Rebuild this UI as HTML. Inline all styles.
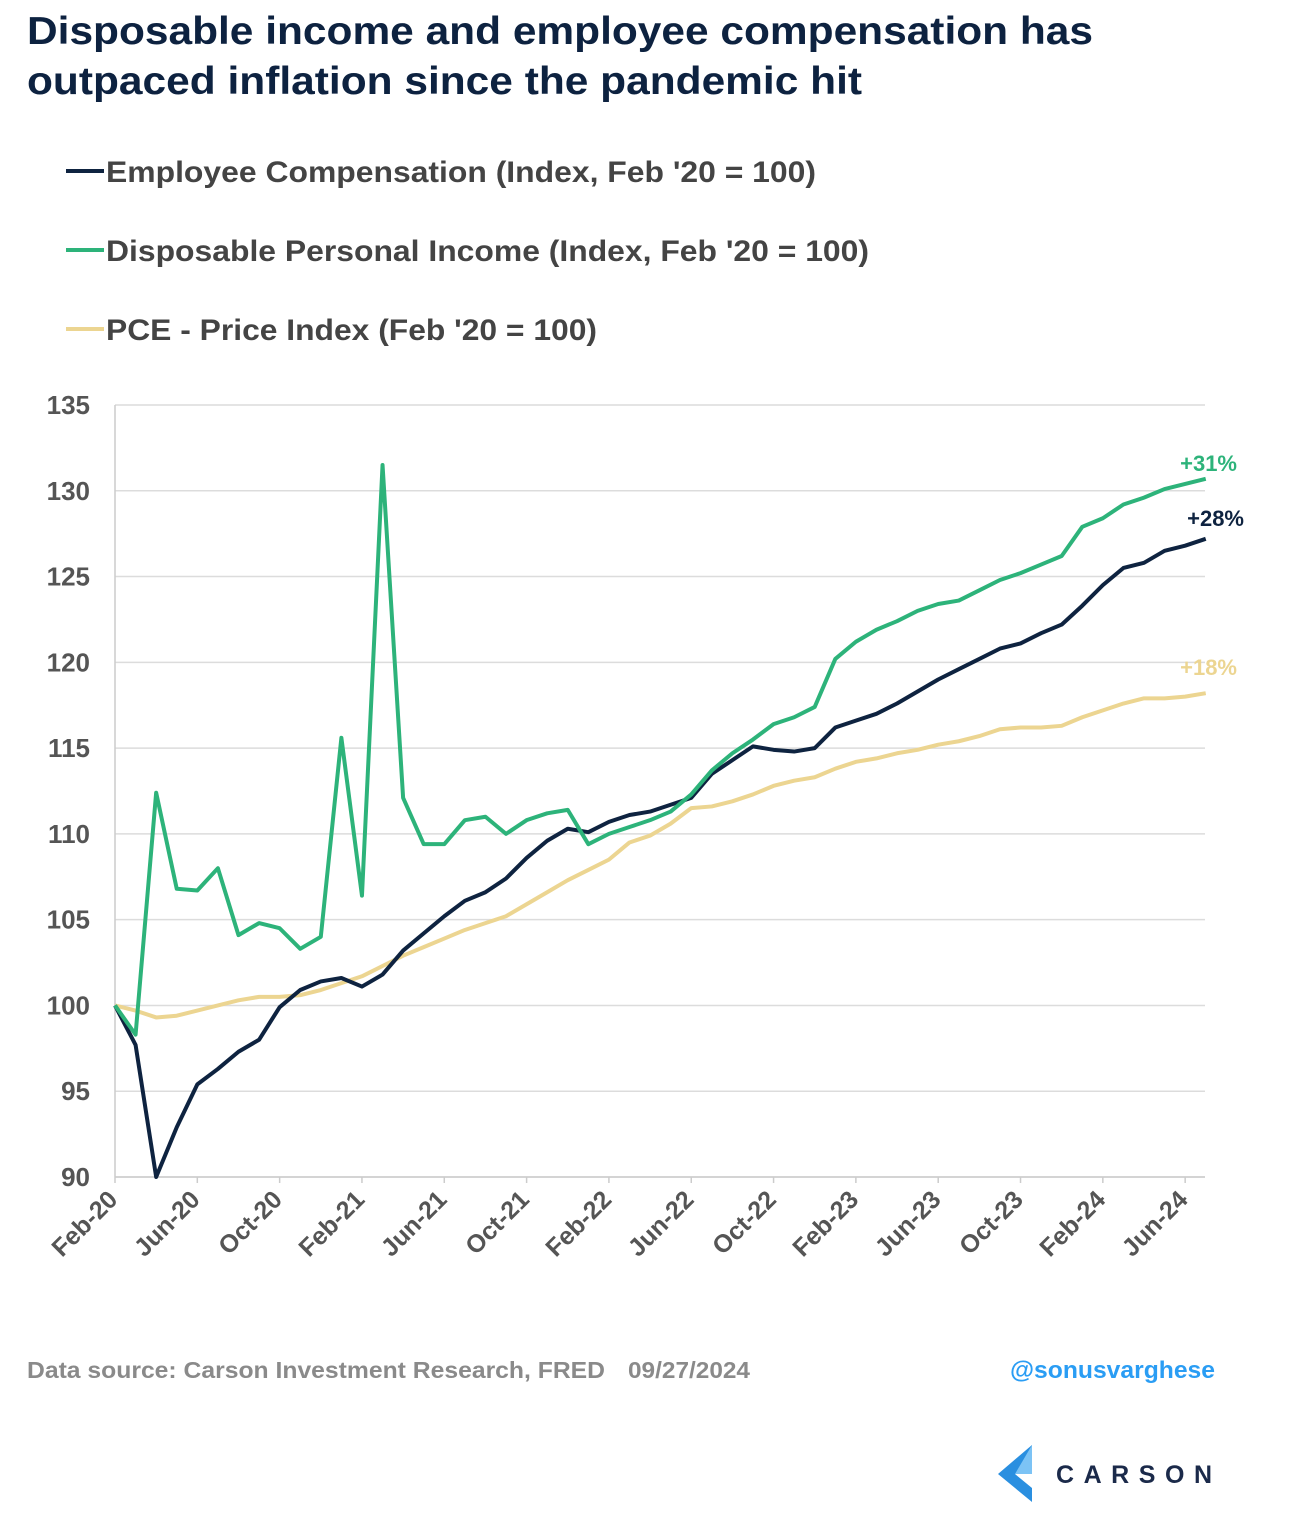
<!DOCTYPE html>
<html><head><meta charset="utf-8"><style>
body{margin:0;background:#fff;width:1292px;height:1524px;overflow:hidden;font-family:"Liberation Sans",sans-serif}
</style></head><body>
<svg width="1292" height="1524" xmlns="http://www.w3.org/2000/svg" style="font-family:'Liberation Sans',sans-serif">
<text x="27" y="44" font-size="39" font-weight="bold" fill="#0d2240" textLength="1066" lengthAdjust="spacingAndGlyphs">Disposable income and employee compensation has</text>
<text x="27" y="94" font-size="39" font-weight="bold" fill="#0d2240" textLength="835" lengthAdjust="spacingAndGlyphs">outpaced inflation since the pandemic hit</text>
<g font-size="30" font-weight="bold" fill="#444">
<line x1="66" y1="171" x2="104" y2="171" stroke="#0e2340" stroke-width="4"/>
<text x="106" y="182" textLength="710" lengthAdjust="spacingAndGlyphs">Employee Compensation (Index, Feb '20 = 100)</text>
<line x1="66" y1="250" x2="104" y2="250" stroke="#2db37a" stroke-width="4"/>
<text x="106" y="261" textLength="763" lengthAdjust="spacingAndGlyphs">Disposable Personal Income (Index, Feb '20 = 100)</text>
<line x1="66" y1="329" x2="104" y2="329" stroke="#ecd591" stroke-width="4"/>
<text x="106" y="340" textLength="491" lengthAdjust="spacingAndGlyphs">PCE - Price Index (Feb '20 = 100)</text>
</g>
<g id="grid"></g><g id="axes"></g><g id="lines"></g>
<text x="1237" y="471" text-anchor="end" font-size="22" font-weight="bold" fill="#2db37a">+31%</text>
<text x="1244" y="526" text-anchor="end" font-size="22" font-weight="bold" fill="#0e2340">+28%</text>
<text x="1237" y="675" text-anchor="end" font-size="22" font-weight="bold" fill="#ecd591">+18%</text>
<text x="27" y="1378" font-size="23" font-weight="bold" fill="#8a8a8a" textLength="578" lengthAdjust="spacingAndGlyphs">Data source: Carson Investment Research, FRED</text>
<text x="628" y="1378" font-size="23" font-weight="bold" fill="#8a8a8a" textLength="122" lengthAdjust="spacingAndGlyphs">09/27/2024</text>
<text x="1010" y="1378" font-size="24" font-weight="bold" fill="#2a9df4" textLength="205" lengthAdjust="spacingAndGlyphs">@sonusvarghese</text>
<g>
<polygon points="1032,1445 998,1474 1032,1502 1032,1488 1015,1474 1032,1460" fill="#2a8fe0"/>
<polygon points="1032,1445 1015,1474 1032,1474" fill="#7cc3f5"/>
<text x="1056" y="1483" font-size="25" font-weight="bold" fill="#1b2a4a" textLength="156" lengthAdjust="spacing">CARSON</text>
</g>
</svg>
<script>
const months=["Feb-20","Mar-20","Apr-20","May-20","Jun-20","Jul-20","Aug-20","Sep-20","Oct-20","Nov-20","Dec-20","Jan-21","Feb-21","Mar-21","Apr-21","May-21","Jun-21","Jul-21","Aug-21","Sep-21","Oct-21","Nov-21","Dec-21","Jan-22","Feb-22","Mar-22","Apr-22","May-22","Jun-22","Jul-22","Aug-22","Sep-22","Oct-22","Nov-22","Dec-22","Jan-23","Feb-23","Mar-23","Apr-23","May-23","Jun-23","Jul-23","Aug-23","Sep-23","Oct-23","Nov-23","Dec-23","Jan-24","Feb-24","Mar-24","Apr-24","May-24","Jun-24","Jul-24"];
const compensation=[100,97.7,90,92.9,95.4,96.3,97.3,98,99.9,100.9,101.4,101.6,101.1,101.8,103.2,104.2,105.2,106.1,106.6,107.4,108.6,109.6,110.3,110.1,110.7,111.1,111.3,111.7,112.1,113.5,114.3,115.1,114.9,114.8,115,116.2,116.6,117,117.6,118.3,119,119.6,120.2,120.8,121.1,121.7,122.2,123.3,124.5,125.5,125.8,126.5,126.8,127.2];
const disposableIncome=[100,98.3,112.4,106.8,106.7,108,104.1,104.8,104.5,103.3,104,115.6,106.4,131.5,112.1,109.4,109.4,110.8,111,110,110.8,111.2,111.4,109.4,110,110.4,110.8,111.3,112.3,113.7,114.7,115.5,116.4,116.8,117.4,120.2,121.2,121.9,122.4,123,123.4,123.6,124.2,124.8,125.2,125.7,126.2,127.9,128.4,129.2,129.6,130.1,130.4,130.7];
const pce=[100,99.7,99.3,99.4,99.7,100,100.3,100.5,100.5,100.6,100.9,101.3,101.7,102.3,102.9,103.4,103.9,104.4,104.8,105.2,105.9,106.6,107.3,107.9,108.5,109.5,109.9,110.6,111.5,111.6,111.9,112.3,112.8,113.1,113.3,113.8,114.2,114.4,114.7,114.9,115.2,115.4,115.7,116.1,116.2,116.2,116.3,116.8,117.2,117.6,117.9,117.9,118,118.2];
const yTicks=[90,95,100,105,110,115,120,125,130,135];
const xTickLabels=["Feb-20","Jun-20","Oct-20","Feb-21","Jun-21","Oct-21","Feb-22","Jun-22","Oct-22","Feb-23","Jun-23","Oct-23","Feb-24","Jun-24"];
const NS="http://www.w3.org/2000/svg";
const X0=115,STEP=20.58,Y0=1177,YS=772/45;
const xs=i=>X0+i*STEP, ys=v=>Y0-(v-90)*YS;
function mk(t,a,p){const e=document.createElementNS(NS,t);for(const k in a)e.setAttribute(k,a[k]);p.appendChild(e);return e;}
const grid=document.getElementById('grid'),axes=document.getElementById('axes'),lines=document.getElementById('lines');
yTicks.forEach(v=>{
 const l=mk('line',{x1:X0,x2:1205,y1:ys(v),y2:ys(v),stroke:'#dcdcdc','stroke-width':1.5},grid);
 
 
 const t=mk('text',{x:90,y:ys(v)+9,'text-anchor':'end','font-size':26,'font-weight':'bold',fill:'#555'},axes);
 t.textContent=v;
 
 
});
const ax=mk('line',{x1:X0,x2:X0,y1:ys(135),y2:ys(90),stroke:'#ccc','stroke-width':1.5},axes);


const bx=mk('line',{x1:X0,x2:1205,y1:Y0,y2:Y0,stroke:'#ccc','stroke-width':1.5},axes);


xTickLabels.forEach(lb=>{
 const i=months.indexOf(lb),x=xs(i);
 const tk=mk('line',{x1:x,x2:x,y1:Y0,y2:Y0+6,stroke:'#ccc','stroke-width':1.5},axes);
 
 
 const t=mk('text',{x:x+4,y:Y0+24,'text-anchor':'end','font-size':25,'font-weight':'bold',fill:'#555',transform:`rotate(-45 ${x+4} ${Y0+24})`},axes);
 t.textContent=lb;
 
 
});
[[pce,'#ecd591','pce-line'],[compensation,'#0e2340','compensation-line'],[disposableIncome,'#2db37a','disposable-income-line']].forEach(([d,c,n])=>{
 const p=mk('polyline',{points:d.map((v,i)=>xs(i)+','+ys(v)).join(' '),fill:'none',stroke:c,'stroke-width':4,'stroke-linejoin':'round'},lines);
 
 
});
</script>
</body></html>
